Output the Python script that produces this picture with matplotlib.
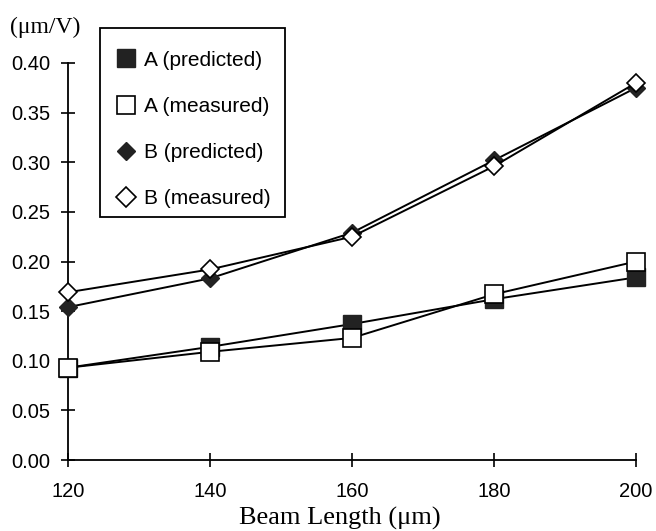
import matplotlib
matplotlib.use("Agg")
import matplotlib.pyplot as plt
from matplotlib.patches import Rectangle

beam_length = [120, 140, 160, 180, 200]
a_predicted = [0.093, 0.114, 0.137, 0.162, 0.184]
a_measured = [0.093, 0.109, 0.123, 0.167, 0.200]
b_predicted = [0.154, 0.183, 0.229, 0.302, 0.375]
b_measured = [0.169, 0.192, 0.225, 0.296, 0.380]
x_ticks = [120, 140, 160, 180, 200]
y_ticks = [0.00, 0.05, 0.10, 0.15, 0.20, 0.25, 0.30, 0.35, 0.40]

fig = plt.figure(figsize=(6.56, 5.31), dpi=100)
ax = fig.add_axes([68/656, 1-460/531, (636-68)/656, (460-63)/531])

dark = "#222222"
lw = 1.4
ax.plot(beam_length, a_predicted, color="black", lw=lw, marker="s", ms=12.5,
        mfc=dark, mec=dark, label="A (predicted)", zorder=3, clip_on=False)
ax.plot(beam_length, b_predicted, color="black", lw=lw, marker="D", ms=9,
        mfc=dark, mec=dark, label="B (predicted)", zorder=3, clip_on=False)
ax.plot(beam_length, a_measured, color="black", lw=lw, marker="s", ms=13,
        mfc="white", mec="black", mew=1.2, label="A (measured)", zorder=4, clip_on=False)
ax.plot(beam_length, b_measured, color="black", lw=lw, marker="D", ms=9.5,
        mfc="white", mec="black", mew=1.2, label="B (measured)", zorder=4, clip_on=False)

ax.set_xlim(120, 200)
ax.set_ylim(0, 0.40)
ax.set_xticks(x_ticks)
ax.set_xticklabels([str(v) for v in x_ticks])
ax.set_yticks(y_ticks)
ax.set_yticklabels([f"{v:.2f}" for v in y_ticks])
for s in ["top", "right"]:
    ax.spines[s].set_visible(False)
for s in ["left", "bottom"]:
    ax.spines[s].set_linewidth(1.3)
ax.tick_params(direction="inout", length=10, width=1.2, labelsize=14.5)
ax.tick_params(axis="y", pad=8)
ax.tick_params(axis="x", pad=11)
for lab in ax.get_xticklabels() + ax.get_yticklabels():
    lab.set_family("Liberation Sans")

fig.text(340/656, 1-525/531, "Beam Length (μm)", family="Liberation Serif",
         fontsize=19, ha="center", va="baseline")
fig.text(10/656, 1-27/531, "(μm/V)", family="Liberation Serif", fontsize=17,
         ha="left", va="center")

handles, labels = ax.get_legend_handles_labels()
order = [0, 2, 1, 3]
leg = ax.legend([handles[i] for i in order], [labels[i] for i in order],
                loc="upper left", bbox_to_anchor=(100/656, 1-31/531),
                bbox_transform=fig.transFigure, borderaxespad=0,
                prop={"family": "Liberation Sans", "size": 15},
                frameon=False,
                handlelength=0.6, handletextpad=0.55, labelspacing=1.3,
                borderpad=0.95, markerscale=1.05)
for h in leg.get_lines():
    h.set_linestyle("none")

frame = Rectangle((100/656, 1-217/531), 185/656, 189/531, transform=fig.transFigure,
                  fill=False, edgecolor="black", lw=1.3, zorder=5)
fig.patches.append(frame)

fig.savefig("out.png", dpi=100, facecolor="white")
